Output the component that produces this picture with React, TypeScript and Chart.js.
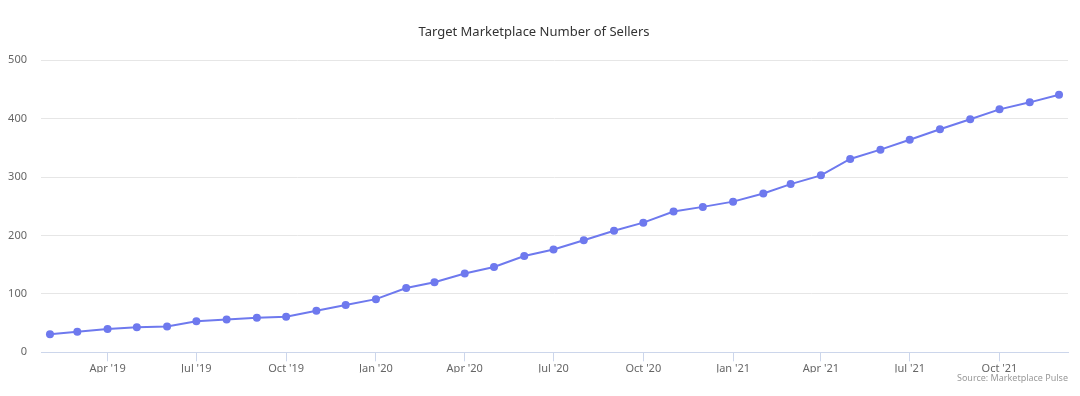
import React, { useEffect, useRef } from "react";
import { Chart, registerables } from "chart.js";

Chart.register(...registerables);

const TITLE = "Target Marketplace Number of Sellers";
const CREDITS = "Source: Marketplace Pulse";

// Month of each point (first of month)
const months: string[] = [
  "2019-02", "2019-03", "2019-04", "2019-05", "2019-06", "2019-07", "2019-08", "2019-09",
  "2019-10", "2019-11", "2019-12", "2020-01", "2020-02", "2020-03", "2020-04", "2020-05",
  "2020-06", "2020-07", "2020-08", "2020-09", "2020-10", "2020-11", "2020-12", "2021-01",
  "2021-02", "2021-03", "2021-04", "2021-05", "2021-06", "2021-07", "2021-08", "2021-09",
  "2021-10", "2021-11", "2021-12",
];

const sellers: number[] = [
  31, 35, 40, 43, 44, 53, 56, 59, 61, 71, 81, 91, 110, 120, 135, 146,
  165, 176, 192, 208, 222, 241, 249, 258, 272, 288, 303, 331, 347, 364, 382, 399,
  416, 428, 441,
];

// Quarterly x-axis ticks
const tickMonths: string[] = [
  "2019-04", "2019-07", "2019-10", "2020-01", "2020-04", "2020-07",
  "2020-10", "2021-01", "2021-04", "2021-07", "2021-10",
];
const tickLabels: string[] = [
  "Apr '19", "Jul '19", "Oct '19", "Jan '20", "Apr '20", "Jul '20",
  "Oct '20", "Jan '21", "Apr '21", "Jul '21", "Oct '21",
];

const yTicks: number[] = [0, 100, 200, 300, 400, 500];

const DAY = 86400000;
const toDay = (m: string) => {
  const [y, mo] = m.split("-").map(Number);
  return Date.UTC(y, mo - 1, 1) / DAY;
};

const FONT = "'Noto Sans', 'Open Sans', sans-serif";
const LINE_COLOR = "#6e79ee";

export default function App() {
  const ref = useRef<HTMLCanvasElement | null>(null);

  useEffect(() => {
    document.body.style.margin = "0";
    const canvas = ref.current;
    if (!canvas) return;
    const xs = months.map(toDay);
    const tickDays = tickMonths.map(toDay);
    const pad = 9.2;
    const chart = new Chart(canvas, {
      type: "line",
      data: {
        datasets: [
          {
            label: "Sellers",
            data: xs.map((x, i) => ({ x, y: sellers[i] })),
            borderColor: LINE_COLOR,
            backgroundColor: LINE_COLOR,
            pointBackgroundColor: LINE_COLOR,
            pointBorderColor: LINE_COLOR,
            borderWidth: 2,
            pointRadius: 4,
            pointBorderWidth: 0,
            tension: 0,
          },
        ],
      },
      options: {
        animation: false,
        responsive: false,
        devicePixelRatio: 1,
        layout: { padding: { left: 0, right: 12, top: 0, bottom: 0 } },
        plugins: {
          legend: { display: false },
          tooltip: { enabled: false },
          title: {
            display: true,
            text: TITLE,
            color: "#333333",
            font: { family: FONT, size: 13, weight: "normal" },
            padding: { top: 24, bottom: 20.7 },
          },
          subtitle: {
            display: true,
            text: CREDITS,
            position: "bottom",
            align: "end",
            color: "#999999",
            font: { family: FONT, size: 9, weight: "normal" },
            padding: { top: 0, bottom: 12.6 },
          },
        },
        scales: {
          x: {
            type: "linear",
            min: xs[0] - pad,
            max: xs[xs.length - 1] + pad,
            afterBuildTicks: (scale: any) => {
              scale.ticks = tickDays.map((v) => ({ value: v }));
            },
            afterFit: (scale: any) => {
              scale.height = 20.3;
            },
            ticks: {
              autoSkip: false,
              maxRotation: 0,
              padding: 1,
              color: "#666666",
              font: { family: FONT, size: 11 },
              callback: (v: any) => {
                const i = tickDays.indexOf(Number(v));
                return i >= 0 ? tickLabels[i] : "";
              },
            },
            grid: {
              drawOnChartArea: false,
              drawTicks: true,
              tickLength: 9,
              color: "#ccd6eb",
              lineWidth: 1,
            },
            border: { display: true, color: "#ccd6eb", width: 1 },
          },
          y: {
            min: 0,
            max: 500,
            afterBuildTicks: (scale: any) => {
              scale.ticks = yTicks.map((v) => ({ value: v }));
            },
            afterFit: (scale: any) => {
              scale.width = 41;
            },
            ticks: {
              padding: 14,
              color: "#666666",
              font: { family: FONT, size: 11 },
            },
            grid: {
              drawTicks: false,
              color: (ctx: any) => (ctx.tick && ctx.tick.value === 0 ? "rgba(0,0,0,0)" : "#e6e6e6"),
              lineWidth: 1,
            },
            border: { display: false },
          },
        },
      },
    });
    return () => chart.destroy();
  }, []);

  return (
    <div style={{ width: 1080, height: 396, background: "#ffffff" }}>
      <canvas ref={ref} width={1080} height={396} style={{ display: "block" }} />
    </div>
  );
}
